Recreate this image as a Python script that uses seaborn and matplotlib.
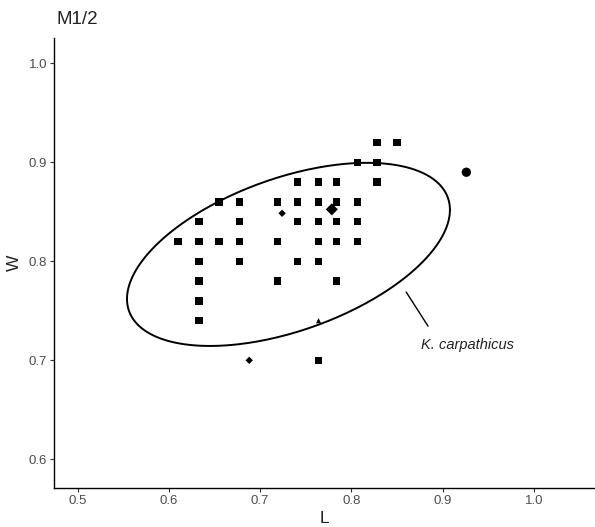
import numpy as np
import pandas as pd
import seaborn as sns
import matplotlib.pyplot as plt

sq_L = [0.828, 0.850,
        0.807, 0.828,
        0.741, 0.764, 0.784, 0.828,
        0.655, 0.677, 0.719, 0.741, 0.764, 0.784, 0.807,
        0.633, 0.677, 0.741, 0.764, 0.784, 0.807,
        0.610, 0.633, 0.655, 0.677, 0.719, 0.764, 0.784, 0.807,
        0.633, 0.677, 0.741, 0.764,
        0.633, 0.719, 0.784,
        0.633,
        0.633,
        0.764]
sq_W = [0.92, 0.92,
        0.90, 0.90,
        0.88, 0.88, 0.88, 0.88,
        0.86, 0.86, 0.86, 0.86, 0.86, 0.86, 0.86,
        0.84, 0.84, 0.84, 0.84, 0.84, 0.84,
        0.82, 0.82, 0.82, 0.82, 0.82, 0.82, 0.82, 0.82,
        0.80, 0.80, 0.80, 0.80,
        0.78, 0.78, 0.78,
        0.76,
        0.74,
        0.70]

circle_L = [0.926]
circle_W = [0.890]
small_diamond_L = [0.724, 0.688]
small_diamond_W = [0.8485, 0.700]
big_diamond_L = [0.7785]
big_diamond_W = [0.8525]
triangle_L = [0.764]
triangle_W = [0.740]

# K. carpathicus ellipse: centre, half-extents, phase between x and y
ell_cx, ell_cy = 0.731, 0.807
ell_ax, ell_ay = 0.177, 0.0925
ell_phase = np.radians(60.9)

x_ticks = [0.5, 0.6, 0.7, 0.8, 0.9, 1.0]
y_ticks = [0.6, 0.7, 0.8, 0.9, 1.0]

sns.set_theme(style='ticks')
plt.rcParams['font.family'] = ['Liberation Sans', 'DejaVu Sans']

fig = plt.figure(figsize=(5.95, 5.27), dpi=100)
ax = fig.add_axes([54 / 595, 1 - 488 / 527, 541 / 595, 450 / 527])

groups = [
    (sq_L, sq_W, 's', 28),
    (circle_L, circle_W, 'o', 45),
    (small_diamond_L, small_diamond_W, 'D', 14),
    (big_diamond_L, big_diamond_W, 'D', 38),
    (triangle_L, triangle_W, '^', 14),
]
for xs, ys, mk, sz in groups:
    df = pd.DataFrame({'L': xs, 'W': ys})
    sns.scatterplot(data=df, x='L', y='W', marker=mk, s=sz, color='black',
                    edgecolor='none', ax=ax, legend=False)

t = np.linspace(0, 2 * np.pi, 300)
ell = pd.DataFrame({'L': ell_cx + ell_ax * np.cos(t),
                    'W': ell_cy + ell_ay * np.cos(t - ell_phase)})
ax.plot(ell['L'], ell['W'], color='black', lw=1.4)

# label with leader line
ax.plot([0.860, 0.884], [0.769, 0.7345], color='black', lw=1.0)
ax.text(0.876, 0.7155, 'K. carpathicus', style='italic', fontsize=10.5,
        color='#222222', va='center', ha='left')

ax.set_xlim(0.474, 1.067)
ax.set_ylim(0.571, 1.0256)
ax.set_xticks(x_ticks)
ax.set_yticks(y_ticks)
ax.set_xticklabels([f'{v:.1f}' for v in x_ticks])
ax.set_yticklabels([f'{v:.1f}' for v in y_ticks])
ax.tick_params(labelsize=9.5, labelcolor='#4d4d4d', length=3, width=0.8,
               color='#333333', pad=2)
for side in ['left', 'bottom']:
    ax.spines[side].set_linewidth(1.0)
    ax.spines[side].set_color('black')
sns.despine(ax=ax)

ax.set_xlabel('L', fontsize=12.5, color='#222222', labelpad=3)
ax.set_ylabel('W', fontsize=12.5, color='#222222', labelpad=5)
fig.text(56 / 595, 1 - 20 / 527, 'M1/2', fontsize=13.5, color='#222222',
         va='center', ha='left')

plt.savefig('out.png', dpi=100)
